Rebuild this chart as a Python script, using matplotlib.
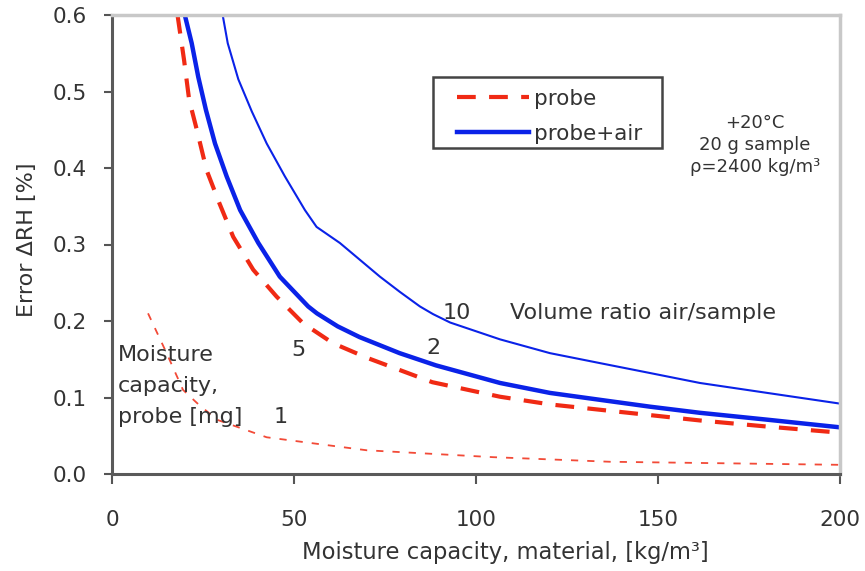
import matplotlib
matplotlib.use("Agg")
import matplotlib.pyplot as plt
from matplotlib.patches import Rectangle

plt.rcParams['font.family'] = ['DejaVu Sans']

# ---- data ----
# probe, moisture capacity 5 mg (thick red dashed)
x_probe5 = [18.0, 19.8, 21.2, 23.3, 26.0, 29.5, 33.3, 38.8, 45.2, 52.5, 60.7, 70, 79, 88, 106.6, 120.3, 134, 147.8, 161.5, 180, 200]
y_probe5 = [0.600, 0.541, 0.489, 0.450, 0.397, 0.354, 0.310, 0.267, 0.232, 0.197, 0.171, 0.152, 0.136, 0.120, 0.101, 0.091, 0.084, 0.077, 0.070, 0.062, 0.054]

# probe + air, volume ratio 2 (thick blue)
x_air2 = [20.0, 21.9, 23.7, 25.8, 28.3, 31.5, 35.2, 40.2, 46.1, 53.9, 56.3, 62, 68, 79, 89, 106.6, 120.3, 134, 147.8, 161.5, 180, 200]
y_air2 = [0.600, 0.563, 0.519, 0.476, 0.432, 0.389, 0.345, 0.302, 0.258, 0.219, 0.210, 0.193, 0.179, 0.158, 0.142, 0.119, 0.106, 0.097, 0.088, 0.080, 0.071, 0.061]

# probe + air, volume ratio 10 (thin blue)
x_air10 = [30.4, 31.8, 34.7, 38.4, 42.5, 47.5, 53.0, 56.2, 62.6, 73.6, 79.1, 84.6, 88.2, 92.9, 106.6, 120.3, 134, 147.8, 161.5, 180, 200]
y_air10 = [0.600, 0.563, 0.516, 0.474, 0.432, 0.389, 0.345, 0.323, 0.302, 0.258, 0.238, 0.219, 0.209, 0.198, 0.176, 0.158, 0.145, 0.132, 0.119, 0.106, 0.092]

# probe, moisture capacity 1 mg (thin red dashed)
x_probe1 = [9.9, 15, 19.5, 23.3, 28.8, 42.5, 70, 104.7, 136.8, 200]
y_probe1 = [0.210, 0.158, 0.110, 0.093, 0.071, 0.048, 0.031, 0.022, 0.016, 0.012]

x_ticks = [0, 50, 100, 150, 200]
x_tick_labels = ['0', '50', '100', '150', '200']
y_ticks = [0.0, 0.1, 0.2, 0.3, 0.4, 0.5, 0.6]
y_tick_labels = ['0.0', '0.1', '0.2', '0.3', '0.4', '0.5', '0.6']

RED = '#f02a14'
BLUE = '#0a22e8'
TXT = '#333333'

W, H = 865, 571
fig = plt.figure(figsize=(W / 100, H / 100), dpi=100)
ax = fig.add_axes([112 / W, (H - 474) / H, 728 / W, 459 / H])

ax.plot(x_probe1, y_probe1, color=RED, lw=1.3, dashes=(4, 5), alpha=0.85)
ax.plot(x_air10, y_air10, color=BLUE, lw=1.5)
l_probe, = ax.plot(x_probe5, y_probe5, color=RED, lw=3.0, dashes=(4.5, 3.2), label='probe')
l_air, = ax.plot(x_air2, y_air2, color=BLUE, lw=3.2, label='probe+air')

ax.set_xlim(0, 200)
ax.set_ylim(0, 0.6)
ax.set_xticks(x_ticks)
ax.set_xticklabels(x_tick_labels)
ax.set_yticks(y_ticks)
ax.set_yticklabels(y_tick_labels)

for s in ('left', 'bottom'):
    ax.spines[s].set_color('#5a5a5a')
    ax.spines[s].set_linewidth(2.2)
for s in ('top', 'right'):
    ax.spines[s].set_color('#c8c8c8')
    ax.spines[s].set_linewidth(2.5)

ax.tick_params(axis='y', direction='out', length=6, width=1.5, color='#555555',
               pad=12, labelsize=15.5, labelcolor=TXT)
ax.tick_params(axis='x', direction='out', length=7, width=1.5, color='#555555',
               pad=19, labelsize=15.5, labelcolor=TXT)

# axis labels
fig.text(505 / W, 1 - 552 / H, 'Moisture capacity, material, [kg/m³]', ha='center', va='center',
         fontsize=16.3, color=TXT)
fig.text(27 / W, 1 - 240 / H, 'Error ΔRH [%]', ha='center', va='center', rotation=90,
         fontsize=16, color=TXT)

# annotations
ax.text(1.65, 0.115, 'Moisture\ncapacity,\nprobe [mg]', ha='left', va='center', fontsize=16,
        color=TXT, linespacing=1.7)
ax.text(51.1, 0.162, '5', ha='center', va='center', fontsize=16, color=TXT)
ax.text(46.2, 0.0745, '1', ha='center', va='center', fontsize=16, color=TXT)
ax.text(88.2, 0.165, '2', ha='center', va='center', fontsize=16, color=TXT)
ax.text(94.8, 0.210, '10', ha='center', va='center', fontsize=16, color=TXT)
ax.text(109.3, 0.210, 'Volume ratio air/sample', ha='left', va='center', fontsize=16, color=TXT)
ax.text(176.6, 0.430, '+20°C\n20 g sample\nρ=2400 kg/m³', ha='center', va='center',
        fontsize=13, color=TXT, linespacing=1.3)

# legend
leg = ax.legend(handles=[l_probe, l_air], frameon=False, loc='upper left',
                bbox_to_anchor=(457 / W, 1 - 89 / H), bbox_transform=fig.transFigure,
                fontsize=15.5, handlelength=3.35, handletextpad=0.23, borderpad=0,
                borderaxespad=0, labelspacing=0.68)
for t in leg.get_texts():
    t.set_color(TXT)
fig.add_artist(Rectangle((433 / W, 1 - 148 / H), (662 - 433) / W, (148 - 77) / H,
                         transform=fig.transFigure, fill=False, ec='#444444', lw=1.8))

fig.savefig('out.png', dpi=100)
